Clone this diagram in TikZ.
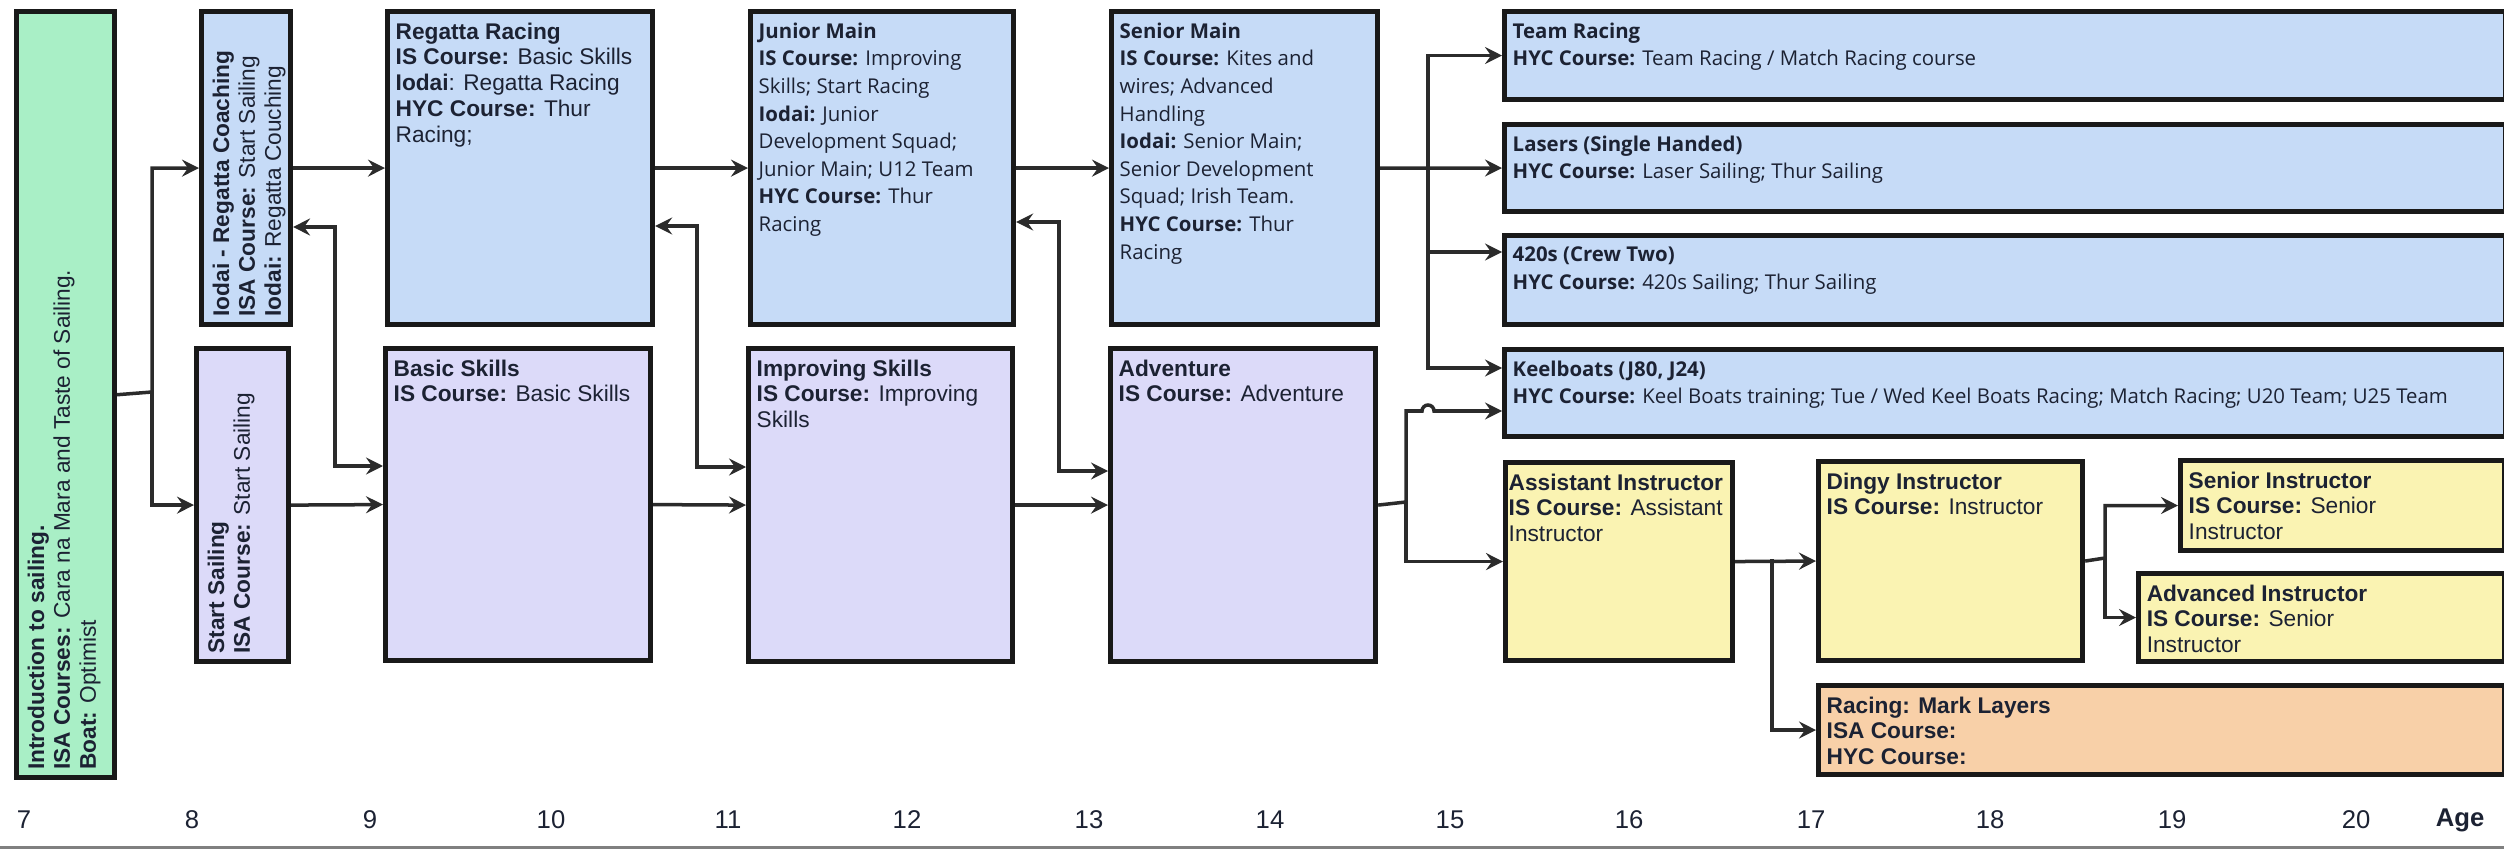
\documentclass[tikz,border=0pt]{standalone}
\usepackage{fontspec}
\setmainfont{Liberation Sans}
\newfontfamily\osfont{Open Sans}
\usetikzlibrary{arrows.meta}

\definecolor{introgreen}{HTML}{A9EFC6}
\definecolor{clubblue}{HTML}{C6DBF7}
\definecolor{skillpurple}{HTML}{DCDAF9}
\definecolor{instyellow}{HTML}{FAF3B2}
\definecolor{markorange}{HTML}{F8D0A8}
\definecolor{inkcol}{HTML}{1C2233}
\definecolor{linecol}{HTML}{2B2B2B}

\begin{document}
\begin{tikzpicture}[
    x=0.01cm, y=-0.01cm,
    stagebox/.style={rectangle, draw=black!90, line width=0.05cm, anchor=north west, inner sep=0pt},
    introbox/.style={stagebox, fill=introgreen},
    bluebox/.style={stagebox, fill=clubblue},
    purplebox/.style={stagebox, fill=skillpurple},
    yellowbox/.style={stagebox, fill=instyellow},
    orangebox/.style={stagebox, fill=markorange},
    txt/.style={anchor=north west, inner xsep=0.1cm, inner ysep=0.13cm, align=left, text=inkcol, font=\fontsize{6.45}{7.34}\selectfont},
    ostxt/.style={txt, font=\osfont\fontsize{5.8}{7.85}\selectfont},
    agelabel/.style={font=\fontsize{7.3}{8}\selectfont, text=inkcol},
    agetitle/.style={font=\fontsize{7.3}{8}\selectfont\bfseries, text=inkcol},
    link/.style={-{Stealth[length=0.17cm, width=0.17cm, inset=0.06cm]}, line width=0.035cm, draw=linecol},
    twoway/.style={{Stealth[length=0.17cm, width=0.17cm, inset=0.06cm]}-{Stealth[length=0.17cm, width=0.17cm, inset=0.06cm]}, line width=0.035cm, draw=linecol}
]
\useasboundingbox (0,0) rectangle (2504,849);

% === Entry (age 7-8) ===
\node[introbox, minimum width=0.98cm, minimum height=7.66cm] (intro) at (14,9) {};
\node[txt, rotate=90] (intro-txt) at (intro.south west) {\textbf{Introduction to sailing.}\\\textbf{ISA Courses:} Cara na Mara and Taste of Sailing.\\\textbf{Boat:} Optimist};

\node[bluebox, minimum width=0.89cm, minimum height=3.13cm] (iodai) at (199,9) {};
\node[txt, rotate=90] (iodai-txt) at (iodai.south west) {\textbf{Iodai - Regatta Coaching}\\\textbf{ISA Course:} Start Sailing\\\textbf{Iodai:} Regatta Couching};

\node[purplebox, minimum width=0.92cm, minimum height=3.13cm] (startsail) at (194,346) {};
\node[txt, rotate=90] (startsail-txt) at (startsail.south west) {\textbf{Start Sailing}\\\textbf{ISA Course:} Start Sailing};

% === Club racing (top row) and IS skills (bottom row) ===
\node[bluebox, minimum width=2.65cm, minimum height=3.13cm] (regatta) at (385,9) {};
\node[txt] (regatta-txt) at (regatta.north west) {\textbf{Regatta Racing}\\\textbf{IS Course:} Basic Skills\\\textbf{Iodai}: Regatta Racing\\\textbf{HYC Course:} Thur\\Racing;};

\node[purplebox, minimum width=2.65cm, minimum height=3.12cm] (basic) at (383,346) {};
\node[txt] (basic-txt) at (basic.north west) {\textbf{Basic Skills}\\\textbf{IS Course:} Basic Skills};

\node[bluebox, minimum width=2.63cm, minimum height=3.13cm] (junior) at (748,9) {};
\node[ostxt] (junior-txt) at (junior.north west) {\textbf{Junior Main}\\\textbf{IS Course:} Improving\\Skills; Start Racing\\\textbf{Iodai:} Junior\\Development Squad;\\Junior Main; U12 Team\\\textbf{HYC Course:} Thur\\Racing};

\node[purplebox, minimum width=2.64cm, minimum height=3.13cm] (improving) at (746,346) {};
\node[txt] (improving-txt) at (improving.north west) {\textbf{Improving Skills}\\\textbf{IS Course:} Improving\\Skills};

\node[bluebox, minimum width=2.66cm, minimum height=3.13cm] (senior) at (1109,9) {};
\node[ostxt] (senior-txt) at (senior.north west) {\textbf{Senior Main}\\\textbf{IS Course:} Kites and\\wires; Advanced\\Handling\\\textbf{Iodai:} Senior Main;\\Senior Development\\Squad; Irish Team.\\\textbf{HYC Course:} Thur\\Racing};

\node[purplebox, minimum width=2.65cm, minimum height=3.13cm] (adventure) at (1108,346) {};
\node[txt] (adventure-txt) at (adventure.north west) {\textbf{Adventure}\\\textbf{IS Course:} Adventure};

% === Boat classes ===
\node[bluebox, minimum width=10cm, minimum height=0.88cm] (team) at (1502,9) {};
\node[ostxt] (team-txt) at (team.north west) {\textbf{Team Racing}\\\textbf{HYC Course:} Team Racing / Match Racing course};

\node[bluebox, minimum width=10cm, minimum height=0.87cm] (lasers) at (1502,122) {};
\node[ostxt] (lasers-txt) at (lasers.north west) {\textbf{Lasers (Single Handed)}\\\textbf{HYC Course:} Laser Sailing; Thur Sailing};

\node[bluebox, minimum width=10cm, minimum height=0.89cm] (c420) at (1502,233) {};
\node[ostxt] (c420-txt) at (c420.north west) {\textbf{420s (Crew Two)}\\\textbf{HYC Course:} 420s Sailing; Thur Sailing};

\node[bluebox, minimum width=10cm, minimum height=0.87cm] (keel) at (1502,347) {};
\node[ostxt] (keel-txt) at (keel.north west) {\textbf{Keelboats (J80, J24)}\\\textbf{HYC Course:} Keel Boats training; Tue / Wed Keel Boats Racing; Match Racing; U20 Team; U25 Team};

% === Instructor path ===
\node[yellowbox, minimum width=2.27cm, minimum height=1.98cm] (asst) at (1503,460) {};
\node[txt, inner xsep=0.05cm] (asst-txt) at (asst.north west) {\textbf{Assistant Instructor}\\\textbf{IS Course:} Assistant\\Instructor};

\node[yellowbox, minimum width=2.64cm, minimum height=1.99cm] (dingy) at (1816,459) {};
\node[txt] (dingy-txt) at (dingy.north west) {\textbf{Dingy Instructor}\\\textbf{IS Course:} Instructor};

\node[yellowbox, minimum width=3.24cm, minimum height=0.90cm] (senins) at (2178,458) {};
\node[txt] (senins-txt) at (senins.north west) {\textbf{Senior Instructor}\\\textbf{IS Course:} Senior\\Instructor};

\node[yellowbox, minimum width=3.66cm, minimum height=0.88cm] (advins) at (2136,571) {};
\node[txt] (advins-txt) at (advins.north west) {\textbf{Advanced Instructor}\\\textbf{IS Course:} Senior\\Instructor};

\node[orangebox, minimum width=6.86cm, minimum height=0.89cm] (mark) at (1816,683) {};
\node[txt] (mark-txt) at (mark.north west) {\textbf{Racing: Mark Layers}\\\textbf{ISA Course:}\\\textbf{HYC Course:}};

% === Age axis ===
\foreach \age/\xpos in {7/24, 8/192, 9/370, 10/551, 11/728, 12/907, 13/1089, 14/1270, 15/1450, 16/1629, 17/1811, 18/1990, 19/2172, 20/2356}
    \node[agelabel] (age-\age) at (\xpos,820) {\age};
\node[agetitle] (age-title) at (2460,820) {Age};
\draw[black!50, line width=0.03cm] (0,847) -- (2504,847);

% === Connectors ===
% entry split
\coordinate (split-intro) at (152,392);
\draw[link] (intro.east) -- (split-intro) |- (iodai.west);
\draw[link] (split-intro) |- (startsail.west);
\draw[link] (iodai.east) -- (regatta.west);
\draw[link] (startsail.east) -- (basic.west);

% cross-over links between rows
\coordinate (back-a1) at (335,227);
\coordinate (back-a2) at (335,466);
\draw[twoway] (iodai.east |- back-a1) -- (back-a1) -- (back-a2) -- (basic.west |- back-a2);
\draw[link] (regatta.east) -- (junior.west);
\draw[link] (basic.east) -- (improving.west);
\coordinate (back-b1) at (697,226);
\coordinate (back-b2) at (697,467);
\draw[twoway] (regatta.east |- back-b1) -- (back-b1) -- (back-b2) -- (improving.west |- back-b2);
\draw[link] (junior.east) -- (senior.west);
\draw[link] (improving.east) -- (adventure.west);
\coordinate (back-c1) at (1059,222);
\coordinate (back-c2) at (1059,471);
\draw[twoway] (junior.east |- back-c1) -- (back-c1) -- (back-c2) -- (adventure.west |- back-c2);

% fan out to boat classes
\coordinate (fan-top) at (1428,165);
\coordinate (fan-420) at (1428,252);
\coordinate (fan-keel) at (1428,368);
\draw[link] (senior.east) -- (lasers.west);
\draw[link] (fan-top) |- (team.west);
\draw[link] (fan-top) -- (fan-420) -- (c420.west |- fan-420);
\draw[link] (fan-420) -- (fan-keel) -- (keel.west |- fan-keel);

% adventure -> keelboats / instructors
\coordinate (split-adv) at (1406,502);
\coordinate (hop-keel) at (1406,411);
\draw[link] (adventure.east) -- (split-adv) -- (hop-keel) -- ++(16,0) arc[start angle=180, end angle=360, radius=6] -- (keel.west |- hop-keel);
\draw[link] (split-adv) |- (asst.west);

% instructor ladder
\coordinate (split-asst) at (1772,559);
\draw[link] (asst.east) -- (dingy.west);
\draw[link] (split-asst) |- (mark.west);
\coordinate (split-dingy) at (2105,558);
\draw[link] (dingy.east) -- (split-dingy) |- (senins.west);
\draw[link] (split-dingy) |- (advins.west);

\end{tikzpicture}
\end{document}
